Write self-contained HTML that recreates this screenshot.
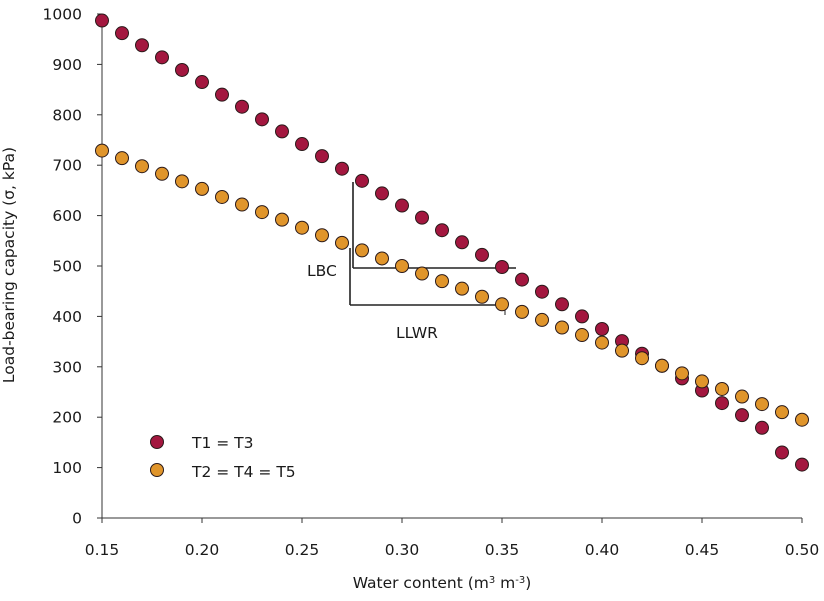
<!DOCTYPE html>
<html><head><meta charset="utf-8"><style>
body{margin:0;background:#fff;}
svg text{font-family:"DejaVu Sans","Liberation Sans",sans-serif;font-size:15.5px;fill:#1a1a1a;}
</style></head><body>
<svg id="chart" width="824" height="596" xmlns="http://www.w3.org/2000/svg">
<g id="axes"></g>
<g id="annot">
<line x1="353" y1="182" x2="353" y2="268" stroke="#222" stroke-width="1.6"/>
<line x1="353" y1="268" x2="516" y2="268" stroke="#222" stroke-width="1.6"/>
<line x1="350" y1="248" x2="350" y2="305" stroke="#222" stroke-width="1.6"/>
<line x1="350" y1="305" x2="505" y2="305" stroke="#222" stroke-width="1.6"/>
<line x1="505" y1="305" x2="505" y2="315" stroke="#222" stroke-width="1"/>
<text x="307" y="276">LBC</text>
<text x="396" y="338">LLWR</text>
</g>
<g id="marks"></g>
<g id="legend">
<g><circle cx="157" cy="442" r="6.5" fill="#A3173F" stroke="#2a1a1a" stroke-width="1"/><text x="192" y="448">T1 = T3</text></g>
<g><circle cx="157" cy="470" r="6.5" fill="#E0952B" stroke="#2a1a1a" stroke-width="1"/><text x="192" y="477">T2 = T4 = T5</text></g>
</g>
</svg>
<script>
const xValues=[0.15,0.16,0.17,0.18,0.19,0.20,0.21,0.22,0.23,0.24,0.25,0.26,0.27,0.28,0.29,0.30,0.31,0.32,0.33,0.34,0.35,0.36,0.37,0.38,0.39,0.40,0.41,0.42,0.43,0.44,0.45,0.46,0.47,0.48,0.49,0.50];
const seriesT1=[987,962,938,914,889,865,840,816,791,767,742,718,693,669,644,620,596,571,547,522,498,473,449,424,400,375,351,326,302,277,253,228,204,179,130,106];
const seriesT2=[729,714,698,683,668,653,637,622,607,592,576,561,546,531,515,500,485,470,455,439,424,409,393,378,363,348,332,317,302,287,271,256,241,226,210,195];
const xTicks=[0.15,0.20,0.25,0.30,0.35,0.40,0.45,0.50];
const yTicks=[0,100,200,300,400,500,600,700,800,900,1000];
const NS="http://www.w3.org/2000/svg";
function sx(v){return 102+(v-0.15)*2000;}
function sy(v){return 518-v*0.504;}
function mk(tag,attrs,parent){const e=document.createElementNS(NS,tag);for(const k in attrs)e.setAttribute(k,attrs[k]);parent.appendChild(e);return e;}
const axes=document.getElementById('axes');
let l=mk('line',{x1:102,y1:sy(1000),x2:102,y2:518,stroke:'#333','stroke-width':1},axes);


l=mk('line',{x1:102,y1:518,x2:802,y2:518,stroke:'#333','stroke-width':1},axes);


yTicks.forEach(v=>{
 mk('line',{x1:97,y1:sy(v),x2:102,y2:sy(v),stroke:'#333'},axes);
 const t=mk('text',{x:82,y:sy(v)+5.5,'text-anchor':'end'},axes);t.textContent=v;
 
 
});
xTicks.forEach(v=>{
 mk('line',{x1:sx(v),y1:518,x2:sx(v),y2:523,stroke:'#333'},axes);
 const t=mk('text',{x:sx(v),y:555,'text-anchor':'middle'},axes);t.textContent=v.toFixed(2);
 
 
});
let xt=mk('text',{x:442,y:588,'text-anchor':'middle'},axes);
xt.innerHTML='Water content (m<tspan dy="-5" font-size="10">3</tspan><tspan dy="5"> m</tspan><tspan dy="-5" font-size="10">-3</tspan><tspan dy="5">)</tspan>';


let yt=mk('text',{x:0,y:0,'text-anchor':'middle',transform:'translate(14,265) rotate(-90)'},axes);
yt.textContent='Load-bearing capacity (σ, kPa)';


const marks=document.getElementById('marks');
function draw(vals,color,name){
 vals.forEach((v,i)=>{
  const c=mk('circle',{cx:sx(xValues[i]),cy:sy(v),r:6.5,fill:color,stroke:'#2a1a1a','stroke-width':1},marks);
  
  
 });
}
draw(seriesT1,'#A3173F','t1');
draw(seriesT2,'#E0952B','t2');
</script>
</body></html>
